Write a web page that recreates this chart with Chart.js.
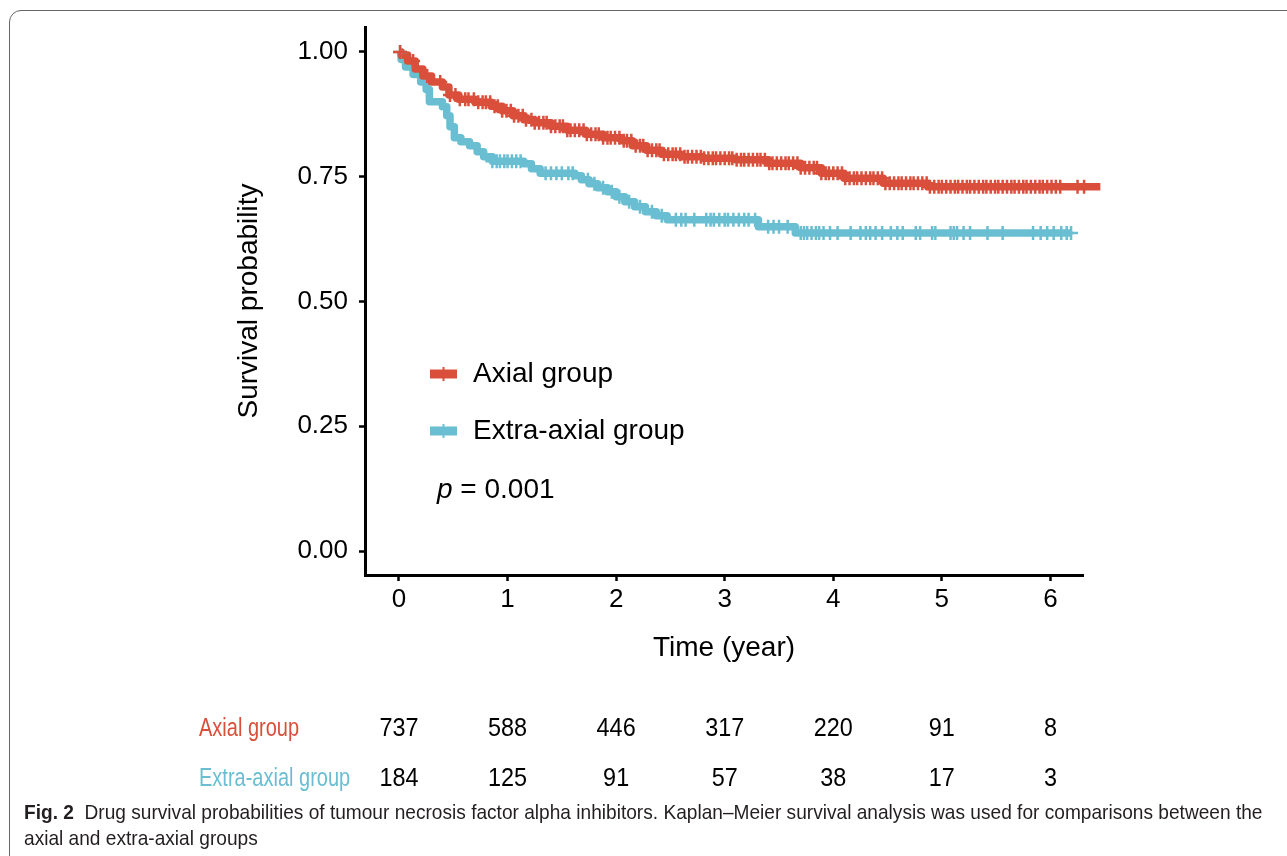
<!DOCTYPE html>
<html>
<head>
<meta charset="utf-8">
<script src="https://cdn.jsdelivr.net/npm/chart.js@4.4.1/dist/chart.umd.min.js"></script>
<style>
html, body { margin: 0; padding: 0; background: #fff; overflow: hidden; }
#wrap { position: relative; width: 1287px; height: 856px; }
#frame { position: absolute; left: 9px; top: 10px; width: 1320px; height: 900px; border: 1.5px solid #666; border-top-left-radius: 12px; box-sizing: border-box; }
#chart { position: absolute; left: 0; top: 0; }
#caption { position: absolute; left: 24px; top: 799px; font-family: 'Liberation Sans', Arial, sans-serif; font-size: 21px; line-height: 26px; color: #231f20; transform: scaleX(0.91); transform-origin: left top; white-space: nowrap; }
</style>
</head>
<body>
<div id="wrap">
  <div id="frame"></div>
  <canvas id="chart" width="1287" height="856"></canvas>
  <div id="caption"><b>Fig. 2</b>&nbsp; Drug survival probabilities of tumour necrosis factor alpha inhibitors. Kaplan–Meier survival analysis was used for comparisons between the<br>axial and extra-axial groups</div>
</div>
<script>
// Kaplan-Meier steps (time in years, survival probability)
const axialTime = [0, 0.02, 0.08, 0.15, 0.22, 0.3, 0.4, 0.46, 0.55, 0.7, 0.85, 0.95, 1.05, 1.15, 1.25, 1.4, 1.55, 1.72, 1.88, 2.05, 2.15, 2.28, 2.42, 2.6, 2.8, 3.1, 3.4, 3.7, 3.89, 4.1, 4.46, 4.87, 6.46];
const axialSurv = [1.0, 0.994, 0.982, 0.966, 0.952, 0.94, 0.93, 0.914, 0.905, 0.899, 0.891, 0.882, 0.872, 0.864, 0.858, 0.851, 0.843, 0.835, 0.828, 0.822, 0.812, 0.803, 0.795, 0.79, 0.787, 0.784, 0.777, 0.768, 0.757, 0.747, 0.737, 0.73, 0.73];
const extraTime = [0, 0.02, 0.06, 0.13, 0.2, 0.25, 0.28, 0.4, 0.44, 0.47, 0.51, 0.57, 0.65, 0.72, 0.78, 0.86, 1.15, 1.22, 1.3, 1.62, 1.68, 1.75, 1.83, 1.92, 2.0, 2.08, 2.17, 2.27, 2.37, 2.47, 3.31, 3.65, 6.19];
const extraSurv = [1.0, 0.985, 0.97, 0.955, 0.94, 0.925, 0.9, 0.89, 0.872, 0.85, 0.828, 0.82, 0.812, 0.8, 0.79, 0.781, 0.776, 0.766, 0.757, 0.752, 0.744, 0.736, 0.728, 0.72, 0.71, 0.7, 0.69, 0.68, 0.672, 0.664, 0.65, 0.637, 0.637];

// censored observations (+ marks), times in years
const axialCensor = [0.01, 0.13, 0.26, 0.38, 0.47, 0.52, 0.56, 0.61, 0.64, 0.69, 0.73, 0.77, 0.8, 0.84, 0.88, 0.91, 0.95, 0.99, 1.03, 1.06, 1.1, 1.14, 1.17, 1.22, 1.25, 1.29, 1.33, 1.36, 1.4, 1.44, 1.48, 1.51, 1.55, 1.58, 1.62, 1.66, 1.7, 1.73, 1.77, 1.81, 1.84, 1.88, 1.92, 1.95, 1.99, 2.03, 2.07, 2.1, 2.14, 2.18, 2.22, 2.25, 2.29, 2.33, 2.37, 2.4, 2.44, 2.48, 2.52, 2.55, 2.59, 2.63, 2.66, 2.7, 2.74, 2.78, 2.81, 2.85, 2.89, 2.92, 2.96, 3.0, 3.04, 3.07, 3.11, 3.15, 3.18, 3.22, 3.26, 3.3, 3.33, 3.37, 3.41, 3.44, 3.48, 3.52, 3.56, 3.59, 3.63, 3.67, 3.7, 3.74, 3.78, 3.82, 3.85, 3.89, 3.93, 3.96, 4.0, 4.04, 4.08, 4.11, 4.15, 4.19, 4.22, 4.26, 4.3, 4.34, 4.37, 4.41, 4.45, 4.48, 4.52, 4.56, 4.6, 4.63, 4.67, 4.71, 4.74, 4.78, 4.82, 4.86, 4.89, 4.93, 4.97, 5.0, 5.04, 5.08, 5.12, 5.15, 5.19, 5.23, 5.26, 5.3, 5.34, 5.38, 5.41, 5.45, 5.49, 5.52, 5.56, 5.6, 5.64, 5.67, 5.71, 5.75, 5.78, 5.82, 5.86, 5.9, 5.93, 5.97, 6.01, 6.05, 6.09, 6.25, 6.31, 6.46];
const extraCensor = [0.01, 0.86, 0.9, 0.93, 0.97, 1.0, 1.04, 1.08, 1.12, 1.35, 1.4, 1.45, 1.5, 1.56, 1.6, 1.74, 1.8, 1.88, 1.96, 2.03, 2.12, 2.22, 2.33, 2.42, 2.55, 2.6, 2.64, 2.72, 2.83, 2.87, 2.9, 2.95, 3.0, 3.03, 3.08, 3.13, 3.18, 3.22, 3.28, 3.4, 3.45, 3.5, 3.58, 3.7, 3.73, 3.76, 3.8, 3.84, 3.87, 3.91, 3.97, 4.04, 4.16, 4.25, 4.3, 4.34, 4.39, 4.45, 4.53, 4.59, 4.64, 4.76, 4.8, 4.91, 4.94, 5.08, 5.11, 5.14, 5.2, 5.26, 5.42, 5.56, 5.84, 5.91, 5.97, 6.03, 6.1, 6.15, 6.19];

// axis ticks
const xTicks = [0, 1, 2, 3, 4, 5, 6];
const yTicks = [0, 0.25, 0.5, 0.75, 1];

// number at risk table
const groups = ['Axial group', 'Extra-axial group'];
const axialRisk = [737, 588, 446, 317, 220, 91, 8];
const extraRisk = [184, 125, 91, 57, 38, 17, 3];

const red = '#DA4F3B';
const blue = '#69BED2';
const font = 'Liberation Sans';

function curvePoints(times, surv) {
    return times.map((t, i) => ({ x: t, y: surv[i] }));
}

// survival value of the step curve at time t
function survAt(times, surv, t) {
    let s = surv[0];
    for (let i = 0; i < times.length; i++) {
        if (times[i] <= t) s = surv[i];
    }
    return s;
}

function censorPoints(censor, times, surv) {
    return censor.map(t => ({ x: t, y: survAt(times, surv, t) }));
}

// legend, p value and risk table
const extras = {
    id: 'extras',
    afterDraw(chart) {
        const ctx = chart.ctx;
        const area = chart.chartArea;
        const xs = chart.scales.x;
        ctx.save();

        const keys = [[groups[0], red, area.top + 347], [groups[1], blue, area.top + 404]];
        keys.forEach(([label, color, y]) => {
            const kx = area.left + 65;
            ctx.strokeStyle = color;
            ctx.lineWidth = 9;
            ctx.beginPath();
            ctx.moveTo(kx, y);
            ctx.lineTo(kx + 27, y);
            ctx.stroke();
            ctx.lineWidth = 2;
            ctx.beginPath();
            ctx.moveTo(kx + 13.5, y - 7);
            ctx.lineTo(kx + 13.5, y + 7);
            ctx.stroke();
            ctx.fillStyle = '#000';
            ctx.font = '28px "' + font + '"';
            ctx.textBaseline = 'middle';
            ctx.textAlign = 'left';
            ctx.fillText(label, kx + 43, y);
        });

        // p value
        const px = area.left + 72, py = area.top + 463;
        ctx.font = 'italic 28px "' + font + '"';
        ctx.fillText('p', px, py);
        const w = ctx.measureText('p').width;
        ctx.font = '28px "' + font + '"';
        ctx.fillText(' = 0.001', px + w, py);

        // number at risk
        const rows = [[groups[0], red, axialRisk, 729], [groups[1], blue, extraRisk, 779]];
        rows.forEach(([label, color, counts, y]) => {
            ctx.save();
            ctx.translate(199, y);
            ctx.scale(0.8, 1);
            ctx.fillStyle = color;
            ctx.font = '25px "' + font + '"';
            ctx.textAlign = 'left';
            ctx.fillText(label, 0, 0);
            ctx.restore();
            counts.forEach((n, i) => {
                ctx.save();
                ctx.translate(xs.getPixelForValue(xTicks[i]), y);
                ctx.scale(0.9, 1);
                ctx.fillStyle = '#000';
                ctx.font = '26px "' + font + '"';
                ctx.textAlign = 'center';
                ctx.fillText(String(n), 0, 0);
                ctx.restore();
            });
        });
        ctx.restore();
    }
};

const axisBorder = { display: true, color: '#000', width: 3 };
const axisGrid = { display: true, drawOnChartArea: false, drawTicks: true, tickLength: 6, tickWidth: 2.5, tickColor: '#000', color: '#000' };

new Chart(document.getElementById('chart'), {
    type: 'line',
    data: {
        datasets: [
            {
                label: 'Axial censored',
                data: censorPoints(axialCensor, axialTime, axialSurv),
                showLine: false, pointStyle: 'cross', pointRadius: 7, pointBorderWidth: 2.5,
                borderColor: red, backgroundColor: red, order: 0, clip: false
            },
            {
                label: 'Extra-axial censored',
                data: censorPoints(extraCensor, extraTime, extraSurv),
                showLine: false, pointStyle: 'cross', pointRadius: 7, pointBorderWidth: 2.5,
                borderColor: blue, backgroundColor: blue, order: 1, clip: false
            },
            {
                label: groups[0],
                data: curvePoints(axialTime, axialSurv),
                stepped: true, borderColor: red, borderWidth: 7.5, pointRadius: 0,
                borderJoinStyle: 'round', fill: false, order: 2, clip: false
            },
            {
                label: groups[1],
                data: curvePoints(extraTime, extraSurv),
                stepped: true, borderColor: blue, borderWidth: 7.5, pointRadius: 0,
                borderJoinStyle: 'round', fill: false, order: 3, clip: false
            }
        ]
    },
    options: {
        responsive: false,
        animation: false,
        devicePixelRatio: 1,
        layout: { padding: { left: 0, top: 27, right: 204, bottom: 181 } },
        plugins: { legend: { display: false }, tooltip: { enabled: false } },
        scales: {
            x: {
                type: 'linear',
                min: -0.313,
                max: 6.3,
                afterBuildTicks: s => { s.ticks = xTicks.map(v => ({ value: v })); },
                afterFit: s => { s.height = 100; },
                border: axisBorder,
                grid: axisGrid,
                ticks: { padding: 3, color: '#000', font: { family: font, size: 26 } },
                title: { display: true, text: 'Time (year)', color: '#000', font: { family: font, size: 28 }, padding: { top: 0, bottom: 10 } }
            },
            y: {
                type: 'linear',
                min: -0.048,
                max: 1.05,
                afterBuildTicks: s => { s.ticks = yTicks.map(v => ({ value: v })); },
                afterFit: s => { s.width = 365; },
                border: axisBorder,
                grid: axisGrid,
                ticks: { padding: 11, color: '#000', font: { family: font, size: 26 }, callback: v => Number(v).toFixed(2) },
                title: { display: true, text: 'Survival probability', color: '#000', font: { family: font, size: 28 }, padding: { top: 232, bottom: 0 } }
            }
        }
    },
    plugins: [extras]
});
</script>
</body>
</html>
